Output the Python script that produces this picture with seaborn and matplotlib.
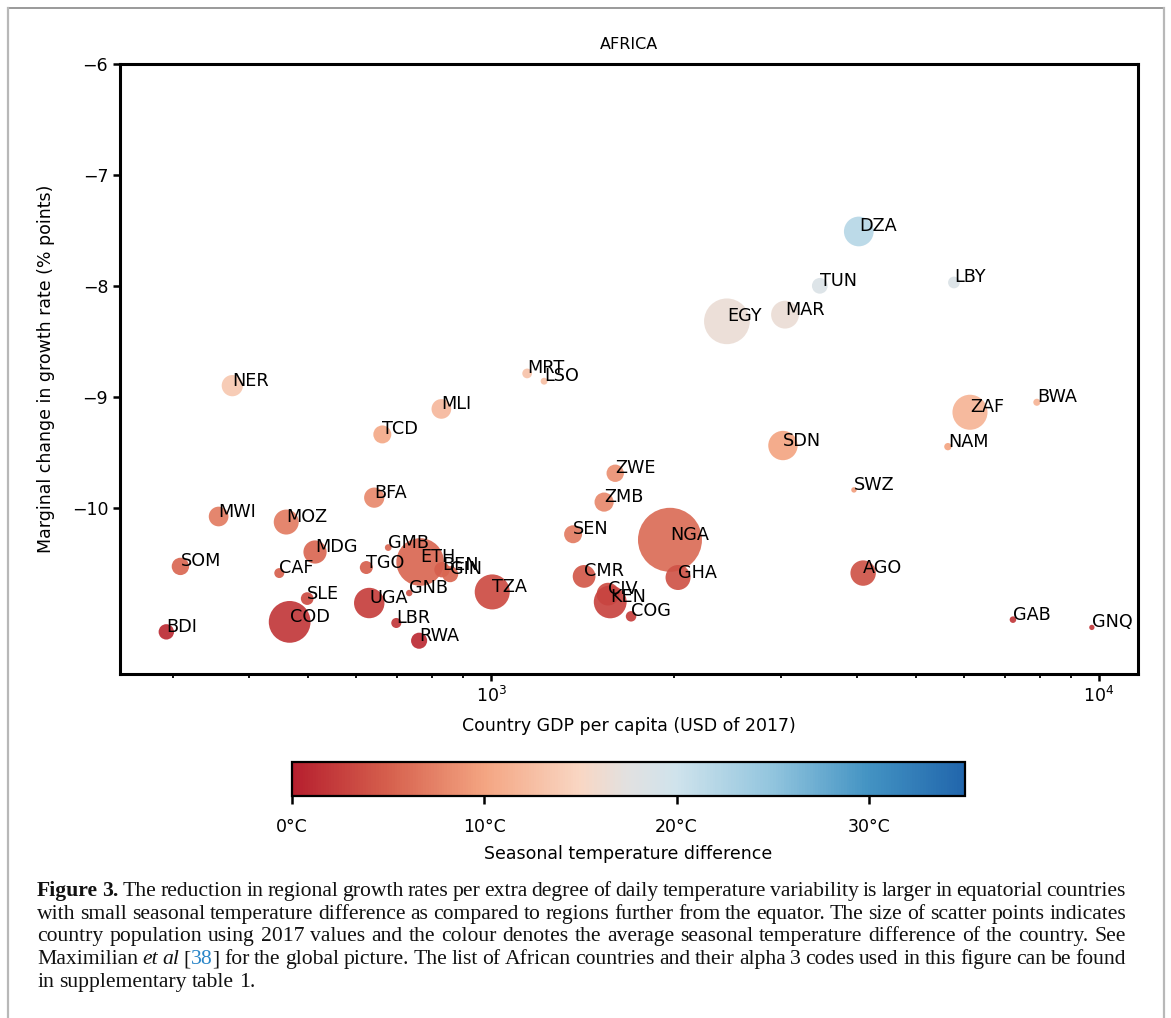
import numpy as np
import pandas as pd
import matplotlib
matplotlib.use("Agg")
import matplotlib.pyplot as plt
import seaborn as sns
from matplotlib.colors import LinearSegmentedColormap, Normalize
from matplotlib.cm import ScalarMappable
from matplotlib.lines import Line2D

# ---------------- data ----------------
codes = ["DZA", "TUN", "LBY", "EGY", "MAR", "MRT", "LSO", "NER", "MLI", "TCD",
         "ZAF", "BWA", "NAM", "SDN", "SWZ", "ZWE", "ZMB", "SEN", "NGA", "CMR",
         "GHA", "CIV", "KEN", "COG", "TZA", "AGO", "GAB", "GNQ", "BFA", "MWI",
         "MOZ", "MDG", "SOM", "CAF", "GMB", "TGO", "ETH", "BEN", "GIN", "GNB",
         "SLE", "UGA", "COD", "LBR", "RWA", "BDI"]
gdp = [4027, 3474, 5775, 2443, 3045, 1146, 1222, 375, 828, 662,
       6137, 7906, 5644, 3021, 3954, 1600, 1534, 1364, 1969, 1422,
       2030, 1557, 1570, 1699, 1004, 4094, 7222, 9739, 642, 356,
       460, 513, 308, 448, 677, 623, 764, 830, 856, 733,
       498, 630, 466, 698, 761, 292]
effect = [-7.51, -8.00, -7.97, -8.32, -8.26, -8.79, -8.86, -8.90, -9.11, -9.34,
          -9.14, -9.05, -9.45, -9.44, -9.84, -9.69, -9.95, -10.24, -10.29, -10.62,
          -10.63, -10.78, -10.85, -10.98, -10.76, -10.59, -11.01, -11.08, -9.91, -10.08,
          -10.13, -10.40, -10.53, -10.59, -10.36, -10.54, -10.49, -10.56, -10.60, -10.77,
          -10.82, -10.86, -11.03, -11.04, -11.20, -11.12]
temp = [22.0, 18.5, 18.5, 16.5, 16.5, 13.0, 12.5, 13.5, 12.0, 10.5,
        11.5, 11.5, 10.0, 10.0, 9.5, 8.5, 8.0, 7.0, 6.0, 4.5,
        4.0, 3.5, 3.0, 2.5, 3.5, 4.0, 2.0, 2.0, 8.0, 7.0,
        7.0, 5.5, 5.5, 5.0, 5.5, 5.0, 5.5, 5.0, 5.5, 4.0,
        3.5, 2.5, 2.0, 2.0, 1.0, 1.0]
population = [41, 11.5, 6.4, 97, 36, 4.4, 2.2, 21, 18, 15,
              57, 2.3, 2.5, 40, 1.4, 14, 17, 15, 190, 24,
              29, 24, 50, 5.1, 57, 30, 2.0, 1.3, 19, 18,
              29, 25, 14, 4.6, 2.1, 7.8, 105, 11, 12, 1.9,
              7.5, 43, 81, 4.7, 12, 11]

cbar_ticks = [0, 10, 20, 30]
cbar_ticklabels = ["0°C", "10°C", "20°C", "30°C"]
yticks = [-6, -7, -8, -9, -10]

df = pd.DataFrame({"code": codes, "gdp": gdp, "effect": effect,
                   "temp": temp, "pop": population})

# ---------------- colour map ----------------
stops = [(0.0, "#b61f2e"), (5 / 35, "#d6604d"), (10 / 35, "#f4a582"),
         (15 / 35, "#f9d7c4"), (17.5 / 35, "#e1e1e1"), (20 / 35, "#cfe3ec"),
         (25 / 35, "#92c5de"), (30 / 35, "#4393c3"), (1.0, "#2166ac")]
cmap = LinearSegmentedColormap.from_list("rdgybu", stops)
norm = Normalize(0, 35)

# ---------------- figure ----------------
W, H = 1171, 1018
fig = plt.figure(figsize=(W / 100, H / 100), dpi=100)
fig.patch.set_facecolor("white")


def fx(px):
    return px / W


def fy(py):
    return 1 - py / H


ax = fig.add_axes([fx(120), fy(674), fx(1138) - fx(120), fy(64) - fy(674)])

sns.scatterplot(data=df, x="gdp", y="effect", hue="temp", palette=cmap,
                hue_norm=norm, size="pop", sizes=(0, 2123), size_norm=(0, 190),
                linewidth=0, alpha=0.92, legend=False, ax=ax, zorder=2)
ax.set_xscale("log")
ax.set_xlim(245, 11600)
ax.set_ylim(-11.5, -6)
ax.set_yticks(yticks)

for c, xv, yv in zip(codes, gdp, effect):
    ax.text(xv, yv, c, fontsize=12.7, color="black", zorder=3)

for s in ax.spines.values():
    s.set_linewidth(2.2)
ax.tick_params(which="major", length=5, width=1.8, labelsize=12.5)
ax.tick_params(which="minor", length=3, width=1.3)
ax.set_xlabel("Country GDP per capita (USD of 2017)", fontsize=12.5, labelpad=8)
ax.set_ylabel("Marginal change in growth rate (% points)", fontsize=12.5, labelpad=12)
ax.set_title("AFRICA", fontsize=11.5, pad=11)

# ---------------- colour bar ----------------
cax = fig.add_axes([fx(292), fy(796), fx(965) - fx(292), fy(762) - fy(796)])
sm = ScalarMappable(norm=norm, cmap=cmap)
cb = fig.colorbar(sm, cax=cax, orientation="horizontal")
cb.set_ticks(cbar_ticks)
cb.set_ticklabels(cbar_ticklabels)
cb.outline.set_linewidth(1.6)
cax.tick_params(length=6, width=1.8, labelsize=12.5, pad=10)
cb.set_label("Seasonal temperature difference", fontsize=12.5, labelpad=6)

# ---------------- page border ----------------
grey = "#b8b8b8"
fig.add_artist(Line2D([fx(8), fx(1164)], [fy(8), fy(8)], color="#9a9a9a", lw=1.4))
fig.add_artist(Line2D([fx(8), fx(8)], [fy(8), fy(1030)], color=grey, lw=1.6))
fig.add_artist(Line2D([fx(1164), fx(1164)], [fy(8), fy(1030)], color=grey, lw=1.6))

# ---------------- caption (justified) ----------------
cap_font = "Liberation Serif"
cap_size = 15.6
REG = dict(family=cap_font, fontsize=cap_size, color="#111111")
BOLD = dict(REG, weight="bold")
ITAL = dict(REG, style="italic")
BLUE = dict(REG, color="#2a86c8")


def words(text, st=REG):
    return [[(w, st)] for w in text.split()]


lines = [
    [[("Figure", BOLD)], [("3.", BOLD)]] + words(
        "The reduction in regional growth rates per extra degree of daily temperature variability is larger in equatorial countries"),
    words("with small seasonal temperature difference as compared to regions further from the equator. The size of scatter points indicates"),
    words("country population using 2017 values and the colour denotes the average seasonal temperature difference of the country. See"),
    words("Maximilian") + [[("et", ITAL)], [("al", ITAL)], [("[", REG), ("38", BLUE), ("]", REG)]]
    + words("for the global picture. The list of African countries and their alpha 3 codes used in this figure can be found"),
    words("in supplementary table 1."),
]
baselines = [896, 919, 941, 964, 987]
x_left, x_right = 37, 1126

fig.canvas.draw()
rend = fig.canvas.get_renderer()


def width_of(t):
    return t.get_window_extent(rend).width


probe_a = fig.text(0, 0, "a", **REG)
probe_b = fig.text(0, 0, "a a", **REG)
space_w = width_of(probe_b) - 2 * width_of(probe_a)
probe_a.remove()
probe_b.remove()

for i, (ln, base) in enumerate(zip(lines, baselines)):
    objs = []
    widths = []
    for wd in ln:
        parts = []
        wsum = 0
        for txt, st in wd:
            t = fig.text(0, fy(base), txt, va="baseline", ha="left", **st)
            w = width_of(t)
            parts.append((t, w))
            wsum += w
        objs.append(parts)
        widths.append(wsum)
    total = sum(widths)
    if i < len(lines) - 1 and len(ln) > 1:
        gap = max((x_right - x_left - total) / (len(ln) - 1), space_w * 0.6)
    else:
        gap = space_w
    x = x_left
    for parts in objs:
        for t, w in parts:
            t.set_x(fx(x))
            x += w
        x += gap

fig.savefig("out.png", dpi=100, facecolor="white")
